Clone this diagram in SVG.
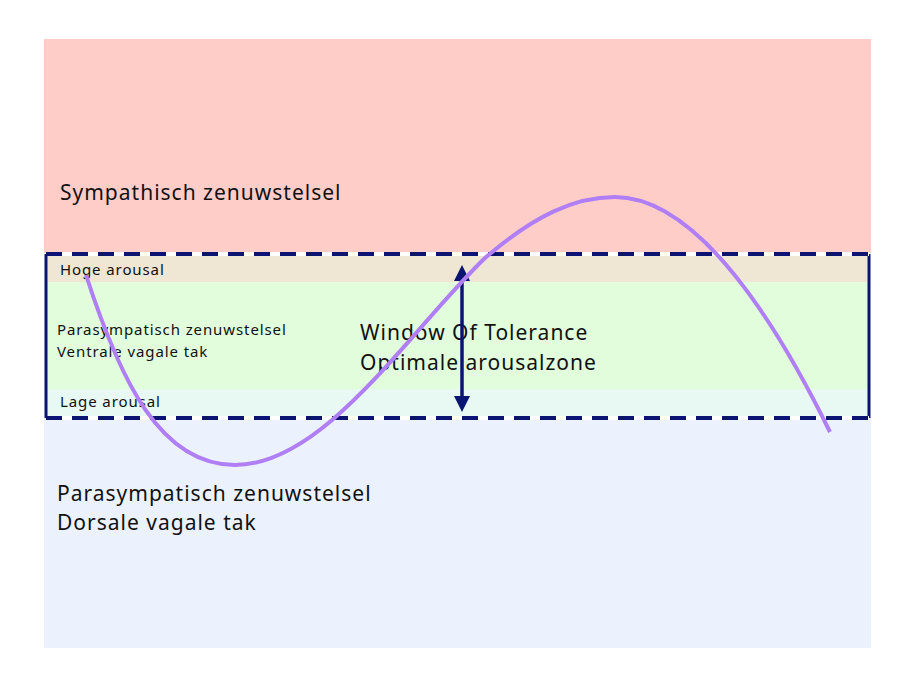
<svg xmlns="http://www.w3.org/2000/svg" width="917" height="678" viewBox="0 0 917 678">
<style>
text{font-family:"Noto Sans","Liberation Sans",sans-serif;fill:#111}
.s{font-size:15px;letter-spacing:0.9px}.l{font-size:21px;letter-spacing:1px}
</style>
<defs>
<marker id="ah" viewBox="0 0 10 10" refX="5" refY="5" markerWidth="16" markerHeight="16" markerUnits="userSpaceOnUse" orient="auto-start-reverse"><path d="M0,0L10,5L0,10z" fill="#0b1470"/></marker>
</defs>
<rect width="917" height="678" fill="#fff"/>
<g id="sympathisch"><rect x="44" y="39" width="827" height="214" fill="#ffcdc8"/><text class="l" x="60" y="200">Sympathisch zenuwstelsel</text></g>
<g id="dorsaal"><rect x="44" y="418" width="827" height="230" fill="#ebf2fe"/><text class="l" x="57" y="501">Parasympatisch zenuwstelsel</text><text class="l" x="57" y="530">Dorsale vagale tak</text></g>
<g id="window">
<rect x="46" y="254" width="823" height="164" fill="#e1fddc"/>
<rect x="48" y="256" width="819" height="26" fill="#efe6d4"/>
<rect x="48" y="389" width="819" height="27" fill="#e8f8f2"/>
<path d="M46,254V418M869,254V418" stroke="#0b1470" stroke-width="3"/>
<path d="M46,254H869M46,418H869" stroke="#fff" stroke-width="4"/>
<path d="M46,254H869M46,418H869" stroke="#0b1470" stroke-width="4" stroke-dasharray="16,10"/>
<text class="s" x="60" y="275">Hoge arousal</text>
<text class="s" x="57" y="335">Parasympatisch zenuwstelsel</text>
<text class="s" x="57" y="357">Ventrale vagale tak</text>
<text class="s" x="60" y="407">Lage arousal</text>
<text class="l" x="360" y="340">Window Of Tolerance</text>
<text class="l" x="360" y="370">Optimale arousalzone</text>
</g>
<g id="connectors">
<path d="M462,273V404" stroke="#0b1470" stroke-width="3.5" marker-start="url(#ah)" marker-end="url(#ah)"/>
<path d="M86,275C120,380 160,465 235,465C325,465 410,330 485,258C535,215 575,197 615,197C700,197 780,330 830,432" fill="none" stroke="#b07ef5" stroke-width="4"/>
</g>
</svg>
